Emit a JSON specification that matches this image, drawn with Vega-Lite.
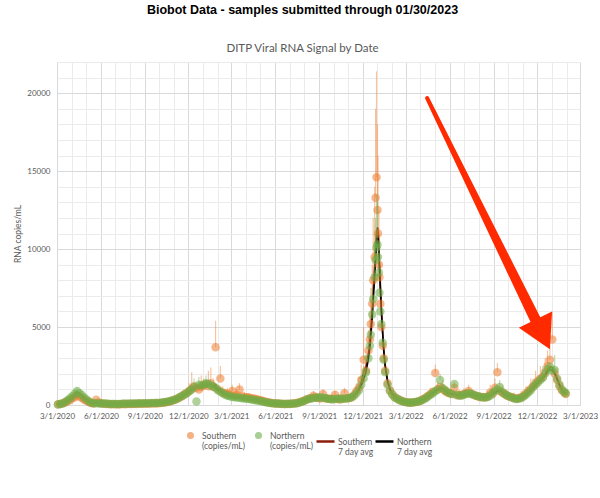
{
"$schema": "https://vega.github.io/schema/vega-lite/v6.json",
"width": 523, "height": 343,
"autosize": "none",
"padding": {"left": 57, "top": 62, "right": 20, "bottom": 93},
"background": "white",
"config": {"view": {"stroke": null}, "font": "Lato"},
"title": {"text": "Biobot Data - samples submitted through 01/30/2023", "subtitle": "DITP Viral RNA Signal by Date", "anchor": "middle", "frame": "group", "dx": -16, "offset": 8, "font": "Liberation Sans", "fontSize": 12.5, "fontWeight": "bold", "color": "#000000", "subtitleFont": "Lato", "subtitleFontSize": 11.5, "subtitleColor": "#595959", "subtitlePadding": 26},
"datasets": {
"main": [
{"d":"2020-03-03","S":50,"N":30,"Sa":50,"Na":30},
{"d":"2020-03-08","S":70,"N":60,"Sa":65,"Na":50},
{"d":"2020-03-13","S":110,"N":90,"Sa":100,"Na":90},
{"d":"2020-03-18","S":160,"N":190,"Sa":160,"Na":180},
{"d":"2020-03-23","S":240,"N":300,"Sa":230,"Na":280},
{"d":"2020-03-28","S":310,"N":430,"Sa":320,"Na":400,"Nh":600},
{"d":"2020-04-02","S":430,"N":560,"Sa":420,"Na":540},
{"d":"2020-04-07","S":500,"N":720,"Sa":510,"Na":680,"Nh":950},
{"d":"2020-04-12","S":620,"N":900,"Sa":580,"Na":820,"Nh":1100},
{"d":"2020-04-17","S":540,"N":760,"Sa":560,"Na":760},
{"d":"2020-04-22","S":450,"N":640,"Sa":460,"Na":620},
{"d":"2020-04-27","S":340,"N":480,"Sa":350,"Na":470},
{"d":"2020-05-02","S":260,"N":350,"Sa":260,"Na":340},
{"d":"2020-05-07","S":190,"N":220,"Sa":180,"Na":230},
{"d":"2020-05-12","S":120,"N":150,"Sa":120,"Na":150},
{"d":"2020-05-17","S":90,"N":110,"Sa":100,"Na":110},
{"d":"2020-05-22","S":340,"N":120,"Sa":130,"Na":110},
{"d":"2020-05-27","S":160,"N":100,"Sa":130,"Na":100},
{"d":"2020-06-01","S":110,"N":90,"Sa":110,"Na":90},
{"d":"2020-06-06","S":80,"N":100,"Sa":85,"Na":95},
{"d":"2020-06-11","S":70,"N":90,"Sa":70,"Na":85},
{"d":"2020-06-16","S":60,"N":80,"Sa":60,"Na":75},
{"d":"2020-06-21","S":50,"N":70,"Sa":55,"Na":70},
{"d":"2020-06-26","S":60,"N":60,"Sa":55,"Na":60},
{"d":"2020-07-01","S":50,"N":70,"Sa":50,"Na":65},
{"d":"2020-07-06","S":40,"N":60,"Sa":45,"Na":60},
{"d":"2020-07-11","S":50,"N":70,"Sa":50,"Na":65},
{"d":"2020-07-16","S":60,"N":80,"Sa":55,"Na":75},
{"d":"2020-07-21","S":50,"N":90,"Sa":55,"Na":80},
{"d":"2020-07-26","S":70,"N":80,"Sa":60,"Na":80},
{"d":"2020-07-31","S":60,"N":90,"Sa":65,"Na":85},
{"d":"2020-08-05","S":70,"N":100,"Sa":70,"Na":90},
{"d":"2020-08-10","S":80,"N":90,"Sa":75,"Na":90},
{"d":"2020-08-15","S":70,"N":100,"Sa":75,"Na":95},
{"d":"2020-08-20","S":90,"N":110,"Sa":85,"Na":105},
{"d":"2020-08-25","S":80,"N":100,"Sa":85,"Na":100},
{"d":"2020-08-30","S":90,"N":110,"Sa":90,"Na":105},
{"d":"2020-09-04","S":80,"N":120,"Sa":85,"Na":115},
{"d":"2020-09-09","S":100,"N":110,"Sa":95,"Na":115},
{"d":"2020-09-14","S":90,"N":130,"Sa":95,"Na":120},
{"d":"2020-09-19","S":110,"N":120,"Sa":100,"Na":125},
{"d":"2020-09-24","S":100,"N":140,"Sa":105,"Na":130},
{"d":"2020-09-29","S":120,"N":130,"Sa":115,"Na":135},
{"d":"2020-10-04","S":130,"N":150,"Sa":125,"Na":145},
{"d":"2020-10-09","S":150,"N":170,"Sa":145,"Na":160},
{"d":"2020-10-14","S":160,"N":190,"Sa":160,"Na":185},
{"d":"2020-10-19","S":200,"N":220,"Sa":190,"Na":210},
{"d":"2020-10-24","S":230,"N":260,"Sa":230,"Na":250},
{"d":"2020-10-29","S":300,"N":290,"Sa":280,"Na":290},
{"d":"2020-11-03","S":340,"N":360,"Sa":330,"Na":350},
{"d":"2020-11-08","S":420,"N":400,"Sa":400,"Na":400},
{"d":"2020-11-13","S":480,"N":520,"Sa":470,"Na":500},
{"d":"2020-11-18","S":560,"N":600,"Sa":540,"Na":580,"Sh":900},
{"d":"2020-11-23","S":700,"N":650,"Sa":640,"Na":650},
{"d":"2020-11-28","S":780,"N":760,"Sa":740,"Na":740,"Nh":1100},
{"d":"2020-12-03","S":900,"N":880,"Sa":850,"Na":860,"Sh":1400},
{"d":"2020-12-08","S":1050,"N":1000,"Sa":980,"Na":980,"Sh":2100},
{"d":"2020-12-13","S":1200,"N":1150,"Sa":1100,"Na":1100,"Nh":1700},
{"d":"2020-12-18","S":1100,"N":220,"Sa":1120,"Na":1150},
{"d":"2020-12-23","S":1000,"N":1300,"Sa":1080,"Na":1200,"Nh":1800},
{"d":"2020-12-28","S":1150,"N":1250,"Sa":1120,"Na":1220,"Sh":1900},
{"d":"2021-01-02","S":1250,"N":1300,"Sa":1200,"Na":1250,"Sh":1700},
{"d":"2021-01-07","S":1350,"N":1400,"Sa":1280,"Na":1320,"Nh":1900},
{"d":"2021-01-12","S":1200,"N":1350,"Sa":1250,"Na":1330,"Sh":2200},
{"d":"2021-01-17","S":1400,"N":1250,"Sa":1280,"Na":1280,"Sh":2400},
{"d":"2021-01-22","S":1150,"N":1200,"Sa":1200,"Na":1200,"Sh":1700},
{"d":"2021-01-27","S":3700,"N":1100,"Sa":1300,"Na":1100,"Sh":5400},
{"d":"2021-02-01","S":1000,"N":950,"Sa":1000,"Na":960},
{"d":"2021-02-06","S":1700,"N":850,"Sa":1050,"Na":870,"Sh":2500},
{"d":"2021-02-11","S":800,"N":750,"Sa":820,"Na":760,"Sh":1200},
{"d":"2021-02-16","S":750,"N":650,"Sa":740,"Na":680},
{"d":"2021-02-21","S":700,"N":600,"Sa":680,"Na":610,"Sh":1100},
{"d":"2021-02-26","S":650,"N":560,"Sa":640,"Na":570},
{"d":"2021-03-03","S":900,"N":520,"Sa":650,"Na":530,"Sh":1300},
{"d":"2021-03-08","S":600,"N":500,"Sa":600,"Na":500},
{"d":"2021-03-13","S":620,"N":480,"Sa":580,"Na":480,"Sh":1000},
{"d":"2021-03-18","S":1000,"N":460,"Sa":600,"Na":460,"Sh":1400},
{"d":"2021-03-23","S":550,"N":440,"Sa":540,"Na":440},
{"d":"2021-03-28","S":520,"N":420,"Sa":510,"Na":420,"Sh":850},
{"d":"2021-04-02","S":500,"N":400,"Sa":490,"Na":400},
{"d":"2021-04-07","S":480,"N":380,"Sa":470,"Na":380,"Sh":750},
{"d":"2021-04-12","S":440,"N":350,"Sa":440,"Na":350},
{"d":"2021-04-17","S":420,"N":320,"Sa":410,"Na":320},
{"d":"2021-04-22","S":380,"N":300,"Sa":370,"Na":300},
{"d":"2021-04-27","S":340,"N":270,"Sa":330,"Na":270},
{"d":"2021-05-02","S":300,"N":240,"Sa":290,"Na":240},
{"d":"2021-05-07","S":250,"N":210,"Sa":250,"Na":210},
{"d":"2021-05-12","S":210,"N":180,"Sa":210,"Na":180},
{"d":"2021-05-17","S":180,"N":150,"Sa":175,"Na":150},
{"d":"2021-05-22","S":150,"N":130,"Sa":145,"Na":130},
{"d":"2021-05-27","S":120,"N":110,"Sa":120,"Na":110},
{"d":"2021-06-01","S":100,"N":100,"Sa":100,"Na":100},
{"d":"2021-06-06","S":90,"N":90,"Sa":90,"Na":90},
{"d":"2021-06-11","S":80,"N":80,"Sa":80,"Na":80},
{"d":"2021-06-16","S":70,"N":80,"Sa":75,"Na":78},
{"d":"2021-06-21","S":70,"N":70,"Sa":72,"Na":72},
{"d":"2021-06-26","S":80,"N":70,"Sa":75,"Na":72},
{"d":"2021-07-01","S":70,"N":80,"Sa":78,"Na":78},
{"d":"2021-07-06","S":90,"N":80,"Sa":85,"Na":82},
{"d":"2021-07-11","S":100,"N":90,"Sa":100,"Na":92},
{"d":"2021-07-16","S":130,"N":110,"Sa":125,"Na":112},
{"d":"2021-07-21","S":170,"N":150,"Sa":165,"Na":150},
{"d":"2021-07-26","S":220,"N":200,"Sa":215,"Na":200},
{"d":"2021-07-31","S":280,"N":260,"Sa":275,"Na":260},
{"d":"2021-08-05","S":350,"N":330,"Sa":340,"Na":325,"Nh":500},
{"d":"2021-08-10","S":400,"N":380,"Sa":395,"Na":380},
{"d":"2021-08-15","S":450,"N":420,"Sa":440,"Na":420,"Sh":700},
{"d":"2021-08-20","S":600,"N":450,"Sa":470,"Na":450,"Sh":900},
{"d":"2021-08-25","S":480,"N":470,"Sa":475,"Na":465},
{"d":"2021-08-30","S":450,"N":480,"Sa":460,"Na":475,"Nh":700},
{"d":"2021-09-04","S":420,"N":500,"Sa":450,"Na":480},
{"d":"2021-09-09","S":700,"N":460,"Sa":470,"Na":465,"Sh":1000},
{"d":"2021-09-14","S":440,"N":430,"Sa":450,"Na":440},
{"d":"2021-09-19","S":420,"N":400,"Sa":420,"Na":410},
{"d":"2021-09-24","S":380,"N":380,"Sa":395,"Na":385},
{"d":"2021-09-29","S":400,"N":360,"Sa":390,"Na":370,"Sh":650},
{"d":"2021-10-04","S":650,"N":380,"Sa":420,"Na":375,"Sh":900},
{"d":"2021-10-09","S":380,"N":400,"Sa":400,"Na":390},
{"d":"2021-10-14","S":360,"N":420,"Sa":385,"Na":405,"Nh":650},
{"d":"2021-10-19","S":400,"N":380,"Sa":390,"Na":390},
{"d":"2021-10-24","S":750,"N":400,"Sa":440,"Na":400,"Sh":1100},
{"d":"2021-10-29","S":420,"N":430,"Sa":430,"Na":420},
{"d":"2021-11-03","S":450,"N":450,"Sa":450,"Na":445,"Sh":700},
{"d":"2021-11-08","S":500,"N":500,"Sa":500,"Na":495},
{"d":"2021-11-13","S":650,"N":600,"Sa":610,"Na":590,"Sh":1000},
{"d":"2021-11-18","S":900,"N":750,"Sa":800,"Na":740,"Sh":1400},
{"d":"2021-11-23","S":1100,"N":950,"Sa":1050,"Na":950,"Sh":1800},
{"d":"2021-11-28","S":1600,"N":1300,"Sa":1450,"Na":1250,"Sh":2600},
{"d":"2021-12-03","S":2900,"N":1700,"Sa":2100,"Na":1650,"Sh":5000,"Nh":2500},
{"d":"2021-12-08","S":2200,"N":2100,"Sa":2500,"Na":2150,"Sh":3200},
{"d":"2021-12-13","S":3500,"N":3000,"Sa":3300,"Na":2950,"Sh":4800},
{"d":"2021-12-16","S":4200,"N":3800,"Sa":4100,"Na":3700,"Sh":6000},
{"d":"2021-12-18","S":5200,"N":4500,"Sa":4900,"Na":4400,"Sh":7500},
{"d":"2021-12-21","S":6500,"N":5800,"Sa":6100,"Na":5600,"Sh":9000,"Nh":7500},
{"d":"2021-12-23","S":8000,"N":6800,"Sa":7300,"Na":6700,"Sh":12000},
{"d":"2021-12-26","S":9500,"N":8200,"Sa":8800,"Na":8100,"Sh":14000,"Nh":10500},
{"d":"2021-12-28","S":13300,"N":9300,"Sa":10000,"Na":9300,"Sh":19000,"Nh":12000},
{"d":"2021-12-30","S":14600,"N":10100,"Sa":11000,"Na":10300,"Sh":21400,"Nh":13500},
{"d":"2022-01-01","S":12500,"N":10300,"Sa":11400,"Na":10900,"Sh":18000,"Nh":13000},
{"d":"2022-01-02","S":11000,"N":9500,"Sa":11200,"Na":10700,"Sh":16000},
{"d":"2022-01-04","S":9000,"N":8500,"Sa":10200,"Na":9700,"Sh":12500,"Nh":10500},
{"d":"2022-01-05","S":8200,"N":7200,"Sa":9300,"Na":8800,"Sh":11000},
{"d":"2022-01-07","S":6500,"N":6000,"Sa":7800,"Na":7400,"Sh":9000},
{"d":"2022-01-09","S":5000,"N":5200,"Sa":6300,"Na":6100,"Sh":7000},
{"d":"2022-01-12","S":3800,"N":4000,"Sa":4600,"Na":4500,"Sh":5200},
{"d":"2022-01-14","S":3000,"N":2900,"Sa":3600,"Na":3500,"Sh":4000},
{"d":"2022-01-17","S":2200,"N":2100,"Sa":2600,"Na":2500,"Sh":3000},
{"d":"2022-01-22","S":1400,"N":1300,"Sa":1600,"Na":1500,"Sh":2000},
{"d":"2022-01-27","S":950,"N":900,"Sa":1050,"Na":1000},
{"d":"2022-02-01","S":700,"N":650,"Sa":750,"Na":700},
{"d":"2022-02-06","S":520,"N":480,"Sa":550,"Na":520},
{"d":"2022-02-11","S":420,"N":400,"Sa":430,"Na":410},
{"d":"2022-02-16","S":330,"N":300,"Sa":340,"Na":310},
{"d":"2022-02-21","S":250,"N":250,"Sa":260,"Na":250},
{"d":"2022-02-26","S":210,"N":200,"Sa":210,"Na":200},
{"d":"2022-03-03","S":180,"N":170,"Sa":180,"Na":170},
{"d":"2022-03-08","S":160,"N":150,"Sa":160,"Na":150},
{"d":"2022-03-13","S":150,"N":160,"Sa":155,"Na":155},
{"d":"2022-03-18","S":170,"N":170,"Sa":165,"Na":165},
{"d":"2022-03-23","S":190,"N":200,"Sa":190,"Na":190},
{"d":"2022-03-28","S":230,"N":240,"Sa":230,"Na":230},
{"d":"2022-04-02","S":300,"N":280,"Sa":290,"Na":280},
{"d":"2022-04-07","S":380,"N":360,"Sa":370,"Na":350},
{"d":"2022-04-12","S":480,"N":430,"Sa":460,"Na":430,"Sh":700},
{"d":"2022-04-17","S":600,"N":540,"Sa":570,"Na":530},
{"d":"2022-04-22","S":700,"N":650,"Sa":680,"Na":640,"Sh":1100},
{"d":"2022-04-27","S":850,"N":750,"Sa":800,"Na":740,"Nh":1100},
{"d":"2022-05-02","S":2050,"N":880,"Sa":950,"Na":860,"Sh":2600},
{"d":"2022-05-07","S":1000,"N":1000,"Sa":1000,"Na":980,"Sh":1500},
{"d":"2022-05-12","S":1150,"N":1600,"Sa":1080,"Na":1080,"Nh":2000},
{"d":"2022-05-17","S":1050,"N":1100,"Sa":1050,"Na":1050,"Sh":1600},
{"d":"2022-05-22","S":900,"N":950,"Sa":930,"Na":930},
{"d":"2022-05-27","S":800,"N":850,"Sa":830,"Na":820,"Sh":1200},
{"d":"2022-06-01","S":750,"N":760,"Sa":760,"Na":750},
{"d":"2022-06-06","S":700,"N":700,"Sa":700,"Na":690},
{"d":"2022-06-11","S":1100,"N":1350,"Sa":720,"Na":760,"Sh":1500},
{"d":"2022-06-16","S":650,"N":620,"Sa":660,"Na":640},
{"d":"2022-06-21","S":600,"N":640,"Sa":620,"Na":620,"Sh":1000},
{"d":"2022-06-26","S":650,"N":600,"Sa":630,"Na":610},
{"d":"2022-07-01","S":700,"N":650,"Sa":660,"Na":640,"Sh":1100},
{"d":"2022-07-06","S":750,"N":700,"Sa":720,"Na":690},
{"d":"2022-07-11","S":900,"N":750,"Sa":760,"Na":720,"Sh":1300},
{"d":"2022-07-16","S":700,"N":720,"Sa":730,"Na":710},
{"d":"2022-07-21","S":650,"N":650,"Sa":670,"Na":660,"Nh":900},
{"d":"2022-07-26","S":600,"N":600,"Sa":610,"Na":600},
{"d":"2022-07-31","S":550,"N":560,"Sa":560,"Na":560},
{"d":"2022-08-05","S":500,"N":520,"Sa":520,"Na":520,"Sh":800},
{"d":"2022-08-10","S":520,"N":480,"Sa":500,"Na":490},
{"d":"2022-08-15","S":480,"N":500,"Sa":490,"Na":490},
{"d":"2022-08-20","S":550,"N":520,"Sa":520,"Na":510,"Sh":900},
{"d":"2022-08-25","S":800,"N":600,"Sa":620,"Na":580,"Sh":1300},
{"d":"2022-08-30","S":700,"N":750,"Sa":700,"Na":680,"Nh":1100},
{"d":"2022-09-04","S":1100,"N":900,"Sa":850,"Na":800,"Sh":1700},
{"d":"2022-09-09","S":2100,"N":1000,"Sa":950,"Na":880,"Sh":2700},
{"d":"2022-09-14","S":900,"N":1150,"Sa":920,"Na":930,"Nh":1600},
{"d":"2022-09-19","S":800,"N":850,"Sa":820,"Na":830,"Sh":1300},
{"d":"2022-09-24","S":700,"N":700,"Sa":700,"Na":700},
{"d":"2022-09-29","S":600,"N":620,"Sa":620,"Na":620,"Sh":1000},
{"d":"2022-10-04","S":550,"N":550,"Sa":560,"Na":550},
{"d":"2022-10-09","S":500,"N":480,"Sa":500,"Na":480},
{"d":"2022-10-14","S":450,"N":420,"Sa":450,"Na":430,"Sh":800},
{"d":"2022-10-19","S":400,"N":380,"Sa":410,"Na":390},
{"d":"2022-10-24","S":450,"N":400,"Sa":430,"Na":400},
{"d":"2022-10-29","S":500,"N":450,"Sa":480,"Na":450,"Sh":900},
{"d":"2022-11-03","S":600,"N":550,"Sa":570,"Na":540},
{"d":"2022-11-08","S":750,"N":650,"Sa":700,"Na":640,"Sh":1200},
{"d":"2022-11-13","S":900,"N":800,"Sa":850,"Na":780},
{"d":"2022-11-18","S":1050,"N":950,"Sa":1000,"Na":930,"Sh":1700},
{"d":"2022-11-23","S":1200,"N":1150,"Sa":1150,"Na":1100,"Nh":1700},
{"d":"2022-11-28","S":1400,"N":1300,"Sa":1350,"Na":1270,"Sh":2200},
{"d":"2022-12-03","S":1550,"N":1450,"Sa":1500,"Na":1420},
{"d":"2022-12-08","S":1700,"N":1600,"Sa":1650,"Na":1580,"Sh":2500},
{"d":"2022-12-13","S":1800,"N":1750,"Sa":1780,"Na":1720,"Nh":2500},
{"d":"2022-12-18","S":2100,"N":2000,"Sa":1950,"Na":1900,"Sh":3000},
{"d":"2022-12-23","S":2500,"N":2300,"Sa":2250,"Na":2150,"Sh":3500},
{"d":"2022-12-28","S":2900,"N":2450,"Sa":2450,"Na":2300,"Sh":3800},
{"d":"2023-01-02","S":4200,"N":2200,"Sa":2400,"Na":2200,"Sh":6000},
{"d":"2023-01-07","S":2000,"N":2250,"Sa":2000,"Na":2050,"Nh":3200},
{"d":"2023-01-12","S":1600,"N":1700,"Sa":1650,"Na":1700,"Sh":2400},
{"d":"2023-01-17","S":1200,"N":1300,"Sa":1250,"Na":1300},
{"d":"2023-01-22","S":950,"N":1000,"Sa":980,"Na":1000,"Sh":1500},
{"d":"2023-01-27","S":800,"N":850,"Sa":820,"Na":840},
{"d":"2023-01-30","S":700,"N":750,"Sa":730,"Na":760}
],
"arrow": [
{"d":"2022-04-15","v":19680,"k":0},
{"d":"2022-12-02","v":5200,"k":1}
],
"tip": [
{"d":"2022-12-28","v":3580}
]
},
"resolve": {"axis": {"x": "independent", "y": "independent"}},
"layer": [
{
"data": {"name": "main"},
"transform": [{"filter": "isValid(datum.Sh)"}],
"mark": {"type": "rule", "color": "#ED7D31", "opacity": 0.45, "strokeWidth": 1.2},
"encoding": {
"x": {"field": "d", "type": "temporal",
 "scale": {"type": "utc", "domain": [{"year": 2020, "month": 3, "date": 1, "utc": true}, {"year": 2023, "month": 3, "date": 1, "utc": true}]},
 "axis": {"orient": "bottom", "title": null, "labels": false, "ticks": false, "domain": false, "grid": true, "gridColor": "#EBEBEB", "gridWidth": 1,
  "values": [
   {"year":2020,"month":4,"date":1,"utc":true},{"year":2020,"month":5,"date":1,"utc":true},{"year":2020,"month":7,"date":1,"utc":true},{"year":2020,"month":8,"date":1,"utc":true},{"year":2020,"month":10,"date":1,"utc":true},{"year":2020,"month":11,"date":1,"utc":true},
   {"year":2021,"month":1,"date":1,"utc":true},{"year":2021,"month":2,"date":1,"utc":true},{"year":2021,"month":4,"date":1,"utc":true},{"year":2021,"month":5,"date":1,"utc":true},{"year":2021,"month":7,"date":1,"utc":true},{"year":2021,"month":8,"date":1,"utc":true},{"year":2021,"month":10,"date":1,"utc":true},{"year":2021,"month":11,"date":1,"utc":true},
   {"year":2022,"month":1,"date":1,"utc":true},{"year":2022,"month":2,"date":1,"utc":true},{"year":2022,"month":4,"date":1,"utc":true},{"year":2022,"month":5,"date":1,"utc":true},{"year":2022,"month":7,"date":1,"utc":true},{"year":2022,"month":8,"date":1,"utc":true},{"year":2022,"month":10,"date":1,"utc":true},{"year":2022,"month":11,"date":1,"utc":true},
   {"year":2023,"month":1,"date":1,"utc":true},{"year":2023,"month":2,"date":1,"utc":true}
  ]}},
"y": {"field": "S", "type": "quantitative",
 "scale": {"domain": [0, 22000], "nice": false},
 "axis": {"orient": "left", "title": null, "labels": false, "ticks": false, "domain": false, "grid": true, "gridColor": "#EBEBEB",
  "values": [1000,2000,3000,4000,6000,7000,8000,9000,11000,12000,13000,14000,16000,17000,18000,19000,21000,22000]}},
"y2": {"field": "Sh"}
}
},
{
"data": {"name": "main"},
"mark": {"type": "line", "strokeWidth": 1.6},
"encoding": {
"x": {"field": "d", "type": "temporal", "axis": null},
"y": {"field": "Sa", "type": "quantitative", "axis": null},
"stroke": {"datum": "Sa", "type": "nominal",
 "scale": {"domain": ["Sa", "Na"], "range": ["#8C1D0A", "#000000"]},
 "legend": {"orient": "none", "legendX": 258, "legendY": 369, "direction": "horizontal", "columns": 2, "title": null, "padding": 0,
  "labelFont": "Lato", "labelFontSize": 8.5, "labelColor": "#595959", "labelOffset": 2, "columnPadding": -7, "labelLimit": 200,
  "symbolSize": 324, "symbolStrokeWidth": 2.5, "symbolType": "stroke",
  "labelExpr": "datum.value == 'Sa' ? ['Southern', '7 day avg'] : ['Northern', '7 day avg']",
  "encode": {"labels": {"update": {"lineHeight": {"value": 10}}}}}}
}
},
{
"data": {"name": "main"},
"mark": {"type": "line", "strokeWidth": 1.6},
"encoding": {
"x": {"field": "d", "type": "temporal", "axis": null},
"y": {"field": "Na", "type": "quantitative", "axis": null},
"stroke": {"datum": "Na", "type": "nominal"}
}
},
{
"data": {"name": "main"},
"mark": {"type": "circle", "opacity": 0.55, "size": 72},
"encoding": {
"x": {"field": "d", "type": "temporal",
 "scale": {"type": "utc", "domain": [{"year": 2020, "month": 3, "date": 1, "utc": true}, {"year": 2023, "month": 3, "date": 1, "utc": true}]},
 "axis": {"orient": "bottom", "title": null, "format": "%-m/%-d/%Y", "labelFont": "Lato", "labelFontSize": 8, "labelColor": "#595959", "labelPadding": 7, "labelFlush": false, "labelOverlap": false, "ticks": false, "domain": true, "domainColor": "#D9D9D9", "grid": true, "gridColor": "#D9D9D9",
  "values": [
   {"year":2020,"month":3,"date":1,"utc":true},{"year":2020,"month":6,"date":1,"utc":true},{"year":2020,"month":9,"date":1,"utc":true},{"year":2020,"month":12,"date":1,"utc":true},
   {"year":2021,"month":3,"date":1,"utc":true},{"year":2021,"month":6,"date":1,"utc":true},{"year":2021,"month":9,"date":1,"utc":true},{"year":2021,"month":12,"date":1,"utc":true},
   {"year":2022,"month":3,"date":1,"utc":true},{"year":2022,"month":6,"date":1,"utc":true},{"year":2022,"month":9,"date":1,"utc":true},{"year":2022,"month":12,"date":1,"utc":true},
   {"year":2023,"month":3,"date":1,"utc":true}
  ]}},
"y": {"field": "S", "type": "quantitative",
 "scale": {"domain": [0, 22000], "nice": false},
 "axis": {"orient": "left", "title": "RNA copies/mL", "titleFont": "Lato", "titleFontSize": 8.5, "titleFontWeight": "normal", "titleColor": "#595959", "titlePadding": 4,
  "format": "d", "labelFont": "Lato", "labelFontSize": 8, "labelColor": "#595959", "labelPadding": 7, "ticks": false, "domain": false, "grid": true, "gridColor": "#D9D9D9",
  "values": [0, 5000, 10000, 15000, 20000]}},
"fill": {"datum": "S", "type": "nominal",
 "scale": {"domain": ["S", "N"], "range": ["#ED7D31", "#70AD47"]},
 "legend": {"orient": "none", "legendX": 129, "legendY": 369, "direction": "horizontal", "columns": 2, "title": null, "padding": 0,
  "labelFont": "Lato", "labelFontSize": 8.5, "labelColor": "#595959", "labelOffset": 7, "columnPadding": 9, "labelLimit": 200,
  "symbolSize": 50, "symbolOpacity": 0.6, "symbolType": "circle",
  "labelExpr": "datum.value == 'S' ? ['Southern', '(copies/mL)'] : ['Northern', '(copies/mL)']",
  "encode": {"labels": {"update": {"lineHeight": {"value": 10}}}}}}
}
},
{
"data": {"name": "main"},
"transform": [{"filter": "isValid(datum.Nh)"}],
"mark": {"type": "rule", "color": "#70AD47", "opacity": 0.45, "strokeWidth": 1.2},
"encoding": {
"x": {"field": "d", "type": "temporal", "axis": null},
"y": {"field": "N", "type": "quantitative", "axis": null},
"y2": {"field": "Nh"}
}
},
{
"data": {"name": "main"},
"mark": {"type": "circle", "opacity": 0.55, "size": 72},
"encoding": {
"x": {"field": "d", "type": "temporal", "axis": null},
"y": {"field": "N", "type": "quantitative", "axis": null},
"fill": {"datum": "N", "type": "nominal"}
}
},
{
"data": {"name": "arrow"},
"mark": {"type": "trail", "color": "#FF2A00"},
"encoding": {
"x": {"field": "d", "type": "temporal", "axis": null},
"y": {"field": "v", "type": "quantitative", "axis": null},
"size": {"field": "k", "type": "quantitative", "scale": {"domain": [0, 1], "range": [4, 11]}, "legend": null}
}
},
{
"data": {"name": "tip"},
"mark": {"type": "point", "shape": "M0,0L-0.925,-1.65L0.925,-1.65Z", "filled": true, "color": "#FF2A00", "opacity": 1, "size": 1600, "angle": 334, "strokeWidth": 0},
"encoding": {
"x": {"field": "d", "type": "temporal", "axis": null},
"y": {"field": "v", "type": "quantitative", "axis": null}
}
}
]
}
